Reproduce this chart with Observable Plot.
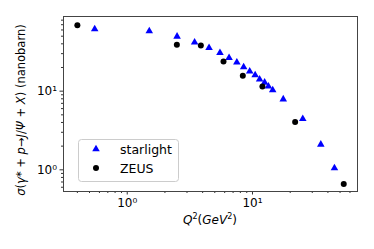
<!DOCTYPE html>
<html><head><meta charset="utf-8">
<script src="https://cdn.jsdelivr.net/npm/d3@7"></script>
<script src="https://cdn.jsdelivr.net/npm/@observablehq/plot@0.6"></script>
<style>body{margin:0;background:#fff} #chart svg{font-family:"DejaVu Sans",sans-serif;overflow:visible}</style>
</head><body><div id="chart"></div>
<script>
const starlightQ2 = [0.55, 1.5, 2.5, 3.45, 4.5, 5.5, 6.5, 7.5, 8.5, 9.5, 10.5, 11.4, 12.5, 13.4, 14.5, 17.6, 25.2, 35.1, 45.1];
const starlightSigma = [61.5, 58, 49.6, 41.7, 35.6, 30.8, 26.6, 23.2, 20.2, 17.9, 16.0, 14.1, 12.9, 11.5, 10.3, 7.9, 4.46, 2.10, 1.05];
const zeusQ2 = [0.40, 2.49, 3.87, 5.87, 8.37, 12.0, 21.9, 53.5];
const zeusSigma = [69, 38.9, 38.1, 23.9, 15.7, 11.5, 4.04, 0.66];
const seriesNames = ["starlight", "ZEUS"];
const majorTicks = [1, 10];
const majorTickLabels = ["10⁰", "10¹"];
const xMinorTicks = [0.4,0.5,0.6,0.7,0.8,0.9,2,3,4,5,6,7,8,9,20,30,40,50,60];
const yMinorTicks = [0.6,0.7,0.8,0.9,2,3,4,5,6,7,8,9,20,30,40,50,60,70,80];

const starlight = starlightQ2.map((q, i) => ({q, s: starlightSigma[i]}));
const zeus = zeusQ2.map((q, i) => ({q, s: zeusSigma[i]}));
const fmt = d => majorTickLabels[majorTicks.indexOf(d)] ?? "";

const plot = Plot.plot({
  width: 374, height: 249,
  marginLeft: 63, marginRight: 17, marginTop: 16, marginBottom: 58,
  style: {fontFamily: "DejaVu Sans", fontSize: "12px", color: "#000", background: "#fff"},
  x: {type: "log", domain: [0.31, 68.9]},
  y: {type: "log", domain: [0.53, 89]},
  marks: [
    Plot.axisX({ticks: majorTicks, tickFormat: fmt, tickSize: 3.5, tickPadding: 3, label: null, fontSize: 12, stroke: "#333"}),
    Plot.axisX({ticks: xMinorTicks, tickFormat: () => "", tickSize: 2, label: null, stroke: "#333"}),
    Plot.axisY({ticks: majorTicks, tickFormat: fmt, tickSize: 3.5, tickPadding: 3, label: null, fontSize: 12, stroke: "#333"}),
    Plot.axisY({ticks: yMinorTicks, tickFormat: () => "", tickSize: 2, label: null, stroke: "#333"}),
    Plot.frame({stroke: "#444", strokeWidth: 1}),
    Plot.dot(starlight, {x: "q", y: "s", symbol: "triangle", r: 2.8, fill: "#0000ff", stroke: "none"}),
    Plot.dot(zeus, {x: "q", y: "s", symbol: "circle", r: 3, fill: "#000", stroke: "none"})
  ]
});
document.getElementById("chart").appendChild(plot);

const svg = d3.select(plot);
// y label
const yl = svg.append("text").attr("transform", "translate(25,110) rotate(-90)")
  .attr("text-anchor", "middle").attr("font-size", 11.5).attr("fill", "#000");
[["σ", true], ["(", false], ["γ", true], ["* + ", false], ["p", true], ["→", false], ["J", true], ["/", false], ["Ψ", true], [" + ", false], ["X", true], [") (nanobarn)", false]]
  .forEach(([t, it]) => yl.append("tspan").attr("font-style", it ? "italic" : "normal").text(t));
// x label
const xl = svg.append("text").attr("x", 210).attr("y", 224).attr("text-anchor", "middle")
  .attr("font-size", 12).attr("fill", "#000");
xl.append("tspan").attr("font-style", "italic").text("Q");
xl.append("tspan").attr("font-size", 8).attr("dy", -5).text("2");
xl.append("tspan").attr("dy", 5).text("(");
xl.append("tspan").attr("font-style", "italic").text("GeV");
xl.append("tspan").attr("font-size", 8).attr("dy", -5).text("2");
xl.append("tspan").attr("dy", 5).text(")");
// legend
const lg = svg.append("g");
lg.append("rect").attr("x", 78.5).attr("y", 139.5).attr("width", 100).attr("height", 42)
  .attr("rx", 3).attr("fill", "#fff").attr("fill-opacity", 0.8).attr("stroke", "#ccc");
lg.append("path").attr("d", d3.symbol().type(d3.symbolTriangle).size(Math.PI * 2.8 * 2.8)()).attr("transform", "translate(96,149)").attr("fill", "#0000ff");
lg.append("circle").attr("cx", 96).attr("cy", 168).attr("r", 3).attr("fill", "#000");
lg.append("text").attr("x", 120).attr("y", 153.5).attr("text-anchor", "start").attr("font-size", 12.5).text(seriesNames[0]);
lg.append("text").attr("x", 120).attr("y", 172.5).attr("text-anchor", "start").attr("font-size", 12.5).text(seriesNames[1]);
</script></body></html>
